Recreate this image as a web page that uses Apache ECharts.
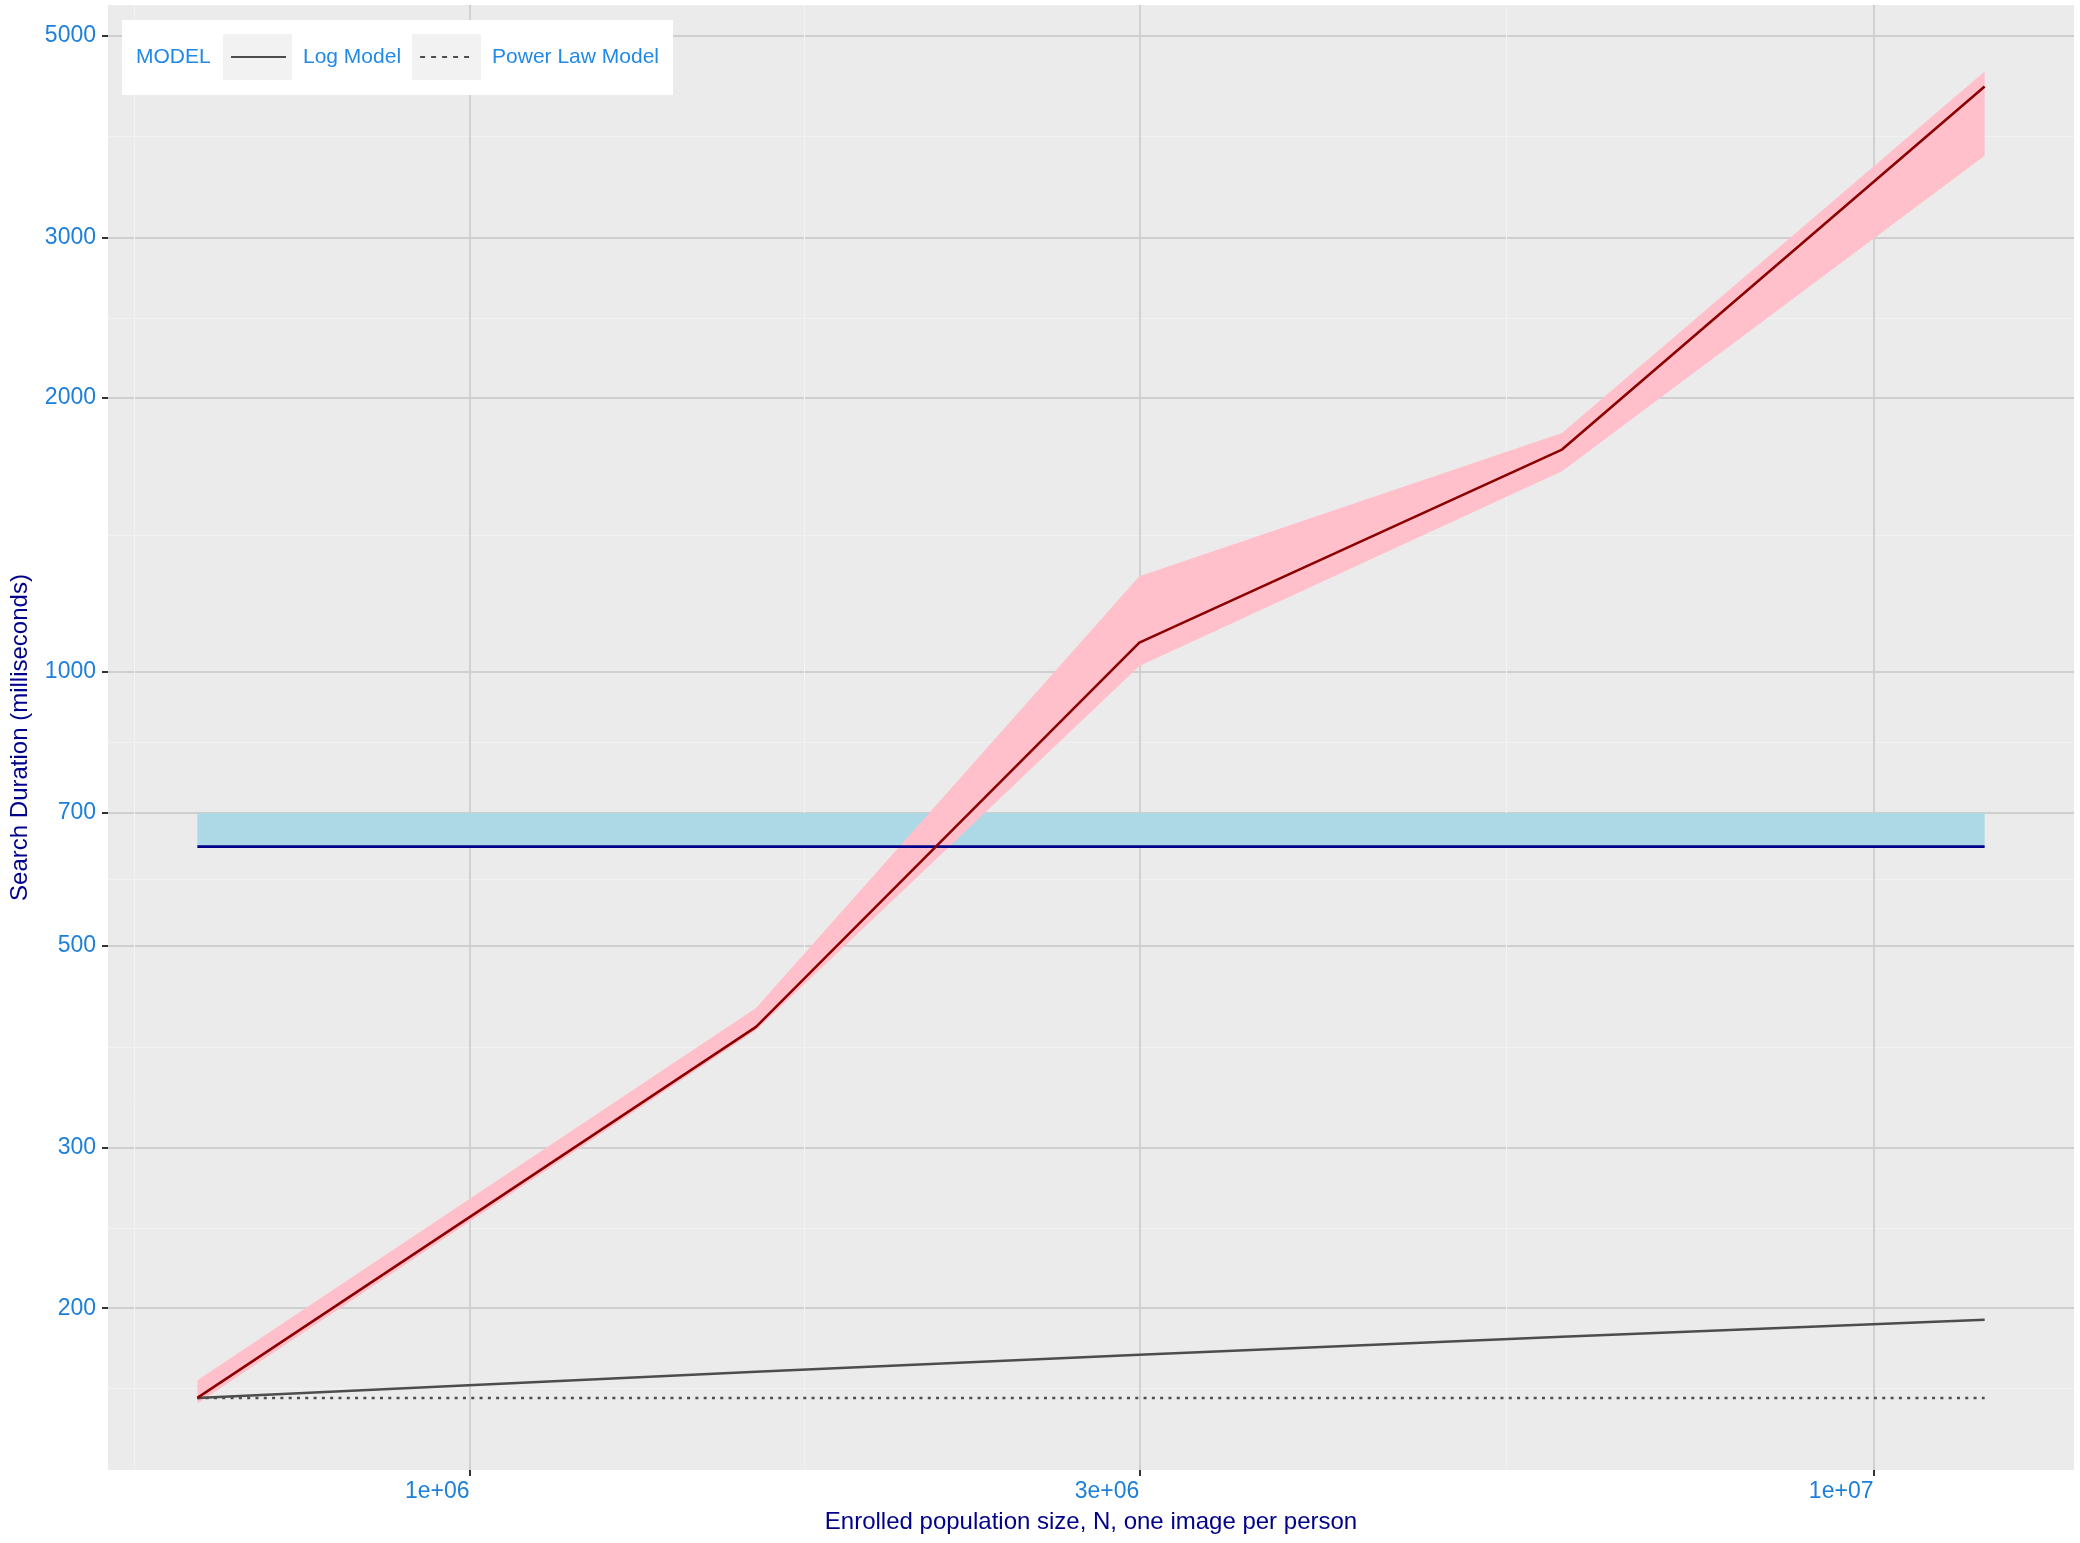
<!DOCTYPE html>
<html>
<head>
<meta charset="utf-8">
<title>Search duration vs enrolled population</title>
<script src="https://cdn.jsdelivr.net/npm/echarts@6/dist/echarts.min.js"></script>
<style>
  html, body { margin: 0; padding: 0; background: #ffffff; }
  #chart { width: 2080px; height: 1543px; }
</style>
</head>
<body>
<div id="chart"></div>
<script>
// Enrolled population size N (one image per person)
const POPULATION = [640000, 1600000, 3000000, 6000000, 12000000];

// Measured search duration (ms) with its uncertainty band
const SEARCH_MS    = [159.4, 407.5, 1077, 1755, 4397];
const SEARCH_MS_LO = [157.2, 404, 1015, 1661, 3690];
const SEARCH_MS_HI = [166.7, 427.5, 1274, 1830, 4566];

// Reference level and its band
const BASELINE_MS    = [642.7, 642.7, 642.7, 642.7, 642.7];
const BASELINE_MS_HI = [700, 700, 700, 700, 700];

// Scaling models anchored at the smallest gallery
const LOG_MODEL_MS       = [159.4, 170.3, 177.8, 186.1, 194.3];
const POWER_LAW_MODEL_MS = [159.4, 159.4, 159.4, 159.4, 159.4];

// Axis breaks
const X_TICKS = [1e6, 3e6, 1e7];
const X_TICK_LABELS = ['1e+06', '3e+06', '1e+07'];
const Y_TICKS = [200, 300, 500, 700, 1000, 2000, 3000, 5000];
const Y_TICK_LABELS = ['200', '300', '500', '700', '1000', '2000', '3000', '5000'];

const FONT = '"Liberation Sans", Arial, Helvetica, sans-serif';
const TICK_TEXT = '#1C7FD9';
const LEGEND_TEXT = '#2189E6';
const TITLE_TEXT = '#00008B';

// log10 limits padded by 5% of the data range on each side
function logLimits(values) {
  const lo = Math.log10(Math.min.apply(null, values));
  const hi = Math.log10(Math.max.apply(null, values));
  const pad = (hi - lo) * 0.05;
  return [lo - pad, hi + pad];
}

// minor breaks halfway between major breaks (in log space), extended one step past each end
function minorBreaks(majorLog, lim) {
  const b = majorLog.slice();
  const n = b.length;
  b.unshift(b[0] - (b[1] - b[0]));
  b.push(b[n] + (b[n] - b[n - 1]));
  const out = [];
  for (let i = 0; i < b.length - 1; i++) {
    const m = (b[i] + b[i + 1]) / 2;
    if (m >= lim[0] && m <= lim[1]) out.push(m);
  }
  return out;
}

function labelFor(v, ticks, labels) {
  let best = 0;
  for (let i = 1; i < ticks.length; i++) {
    if (Math.abs(Math.log10(ticks[i]) - v) < Math.abs(Math.log10(ticks[best]) - v)) best = i;
  }
  return labels[best];
}

const xLim = logLimits(POPULATION);
const yLim = logLimits([].concat(SEARCH_MS_LO, SEARCH_MS_HI, SEARCH_MS, BASELINE_MS,
  BASELINE_MS_HI, LOG_MODEL_MS, POWER_LAW_MODEL_MS));

const xMajor = X_TICKS.map(Math.log10);
const yMajor = Y_TICKS.map(Math.log10);
const xMinor = minorBreaks(xMajor, xLim);
const yMinor = minorBreaks(yMajor, yLim);

function pairs(ys) { return POPULATION.map((x, i) => [x, ys[i]]); }

// filled band between lo and hi, drawn as one polygon through the axis scales
function bandSeries(name, lo, hi, color) {
  return {
    type: 'custom',
    name: name,
    xAxisIndex: 0,
    yAxisIndex: 0,
    clip: true,
    silent: true,
    data: POPULATION.map((x, i) => [x, lo[i], hi[i]]),
    encode: { x: 0, y: [1, 2] },
    renderItem: function (params, api) {
      if (params.dataIndex !== 0) return null;
      const pts = [];
      for (let i = 0; i < POPULATION.length; i++) pts.push(api.coord([POPULATION[i], hi[i]]));
      for (let i = POPULATION.length - 1; i >= 0; i--) pts.push(api.coord([POPULATION[i], lo[i]]));
      return { type: 'polygon', shape: { points: pts }, style: { fill: color } };
    }
  };
}

function lineSeries(name, ys, color, width, dash) {
  return {
    type: 'line',
    name: name,
    xAxisIndex: 0,
    yAxisIndex: 0,
    data: pairs(ys),
    symbol: 'none',
    showSymbol: false,
    silent: true,
    lineStyle: { color: color, width: width, type: dash || 'solid', cap: 'butt' },
    itemStyle: { color: color },
    emphasis: { disabled: true }
  };
}

const tickLine = { show: true, length: 6, lineStyle: { color: '#333333', width: 2 } };
const majorGrid = { show: true, lineStyle: { color: '#CFCFCF', width: 1.8 } };
const minorGrid = { show: true, lineStyle: { color: '#F2F2F2', width: 1 } };

const chart = echarts.init(document.getElementById('chart'), null, { renderer: 'canvas' });

chart.setOption({
  animation: false,
  backgroundColor: '#ffffff',
  grid: {
    left: 101, right: 6, top: 5, bottom: 73,
    show: true, backgroundColor: '#EBEBEB', borderWidth: 0
  },
  xAxis: [
    { type: 'log', logBase: 10, min: Math.pow(10, xLim[0]), max: Math.pow(10, xLim[1]), show: false },
    {
      type: 'value', position: 'bottom', min: xLim[0], max: xLim[1],
      axisLine: { show: false },
      axisTick: Object.assign({ customValues: xMajor }, tickLine),
      axisLabel: {
        customValues: xMajor,
        formatter: v => labelFor(v, X_TICKS, X_TICK_LABELS),
        align: 'right', margin: 10, fontSize: 23, color: TICK_TEXT, fontFamily: FONT
      },
      splitLine: majorGrid,
      name: 'Enrolled population size, N, one image per person',
      nameLocation: 'middle', nameGap: 40,
      nameTextStyle: { fontSize: 24, color: TITLE_TEXT, fontFamily: FONT }
    },
    {
      type: 'value', position: 'bottom', min: xLim[0], max: xLim[1],
      axisLine: { show: false },
      axisTick: { show: false, customValues: xMinor },
      axisLabel: { show: false },
      splitLine: minorGrid
    }
  ],
  yAxis: [
    { type: 'log', logBase: 10, min: Math.pow(10, yLim[0]), max: Math.pow(10, yLim[1]), show: false },
    {
      type: 'value', position: 'left', min: yLim[0], max: yLim[1],
      axisLine: { show: false },
      axisTick: Object.assign({ customValues: yMajor }, tickLine),
      axisLabel: {
        customValues: yMajor,
        formatter: v => labelFor(v, Y_TICKS, Y_TICK_LABELS),
        margin: 12, fontSize: 23, color: TICK_TEXT, fontFamily: FONT
      },
      splitLine: majorGrid,
      name: 'Search Duration (milliseconds)',
      nameLocation: 'middle', nameGap: 76, nameRotate: 90,
      nameTextStyle: { fontSize: 24, color: TITLE_TEXT, fontFamily: FONT }
    },
    {
      type: 'value', position: 'left', min: yLim[0], max: yLim[1],
      axisLine: { show: false },
      axisTick: { show: false, customValues: yMinor },
      axisLabel: { show: false },
      splitLine: minorGrid
    }
  ],
  legend: {
    left: 230, top: 45, padding: 0, orient: 'horizontal',
    itemWidth: 55, itemHeight: 14, itemGap: 18,
    selectedMode: false, z: 60,
    itemStyle: { color: 'rgba(0,0,0,0)', borderWidth: 0, opacity: 0 },
    textStyle: { fontSize: 21, lineHeight: 24, color: LEGEND_TEXT, fontFamily: FONT, padding: [0, 0, 0, 12] },
    data: [
      { name: 'Log Model' },
      { name: 'Power Law Model', lineStyle: { type: [5, 6] } }
    ]
  },
  graphic: [
    { type: 'rect', z: 50, silent: true, shape: { x: 122, y: 20, width: 551, height: 75 }, style: { fill: '#ffffff' } },
    { type: 'rect', z: 51, silent: true, shape: { x: 223, y: 34, width: 69, height: 46 }, style: { fill: '#F2F2F2' } },
    { type: 'rect', z: 51, silent: true, shape: { x: 412, y: 34, width: 69, height: 46 }, style: { fill: '#F2F2F2' } },
    { type: 'text', z: 52, silent: true, x: 136, y: 57,
      style: { text: 'MODEL', fill: LEGEND_TEXT, font: '21px ' + FONT, textVerticalAlign: 'middle', verticalAlign: 'middle' } }
  ],
  series: [
    bandSeries('Baseline band', BASELINE_MS, BASELINE_MS_HI, '#ADD8E6'),
    bandSeries('Search band', SEARCH_MS_LO, SEARCH_MS_HI, '#FFC0CB'),
    lineSeries('Baseline', BASELINE_MS, '#00008B', 2.7),
    lineSeries('Log Model', LOG_MODEL_MS, '#4D4D4D', 2.5),
    lineSeries('Power Law Model', POWER_LAW_MODEL_MS, '#4D4D4D', 2.5, [3, 5.3]),
    lineSeries('Search duration', SEARCH_MS, '#8B0000', 2.6)
  ]
});
</script>
</body>
</html>
